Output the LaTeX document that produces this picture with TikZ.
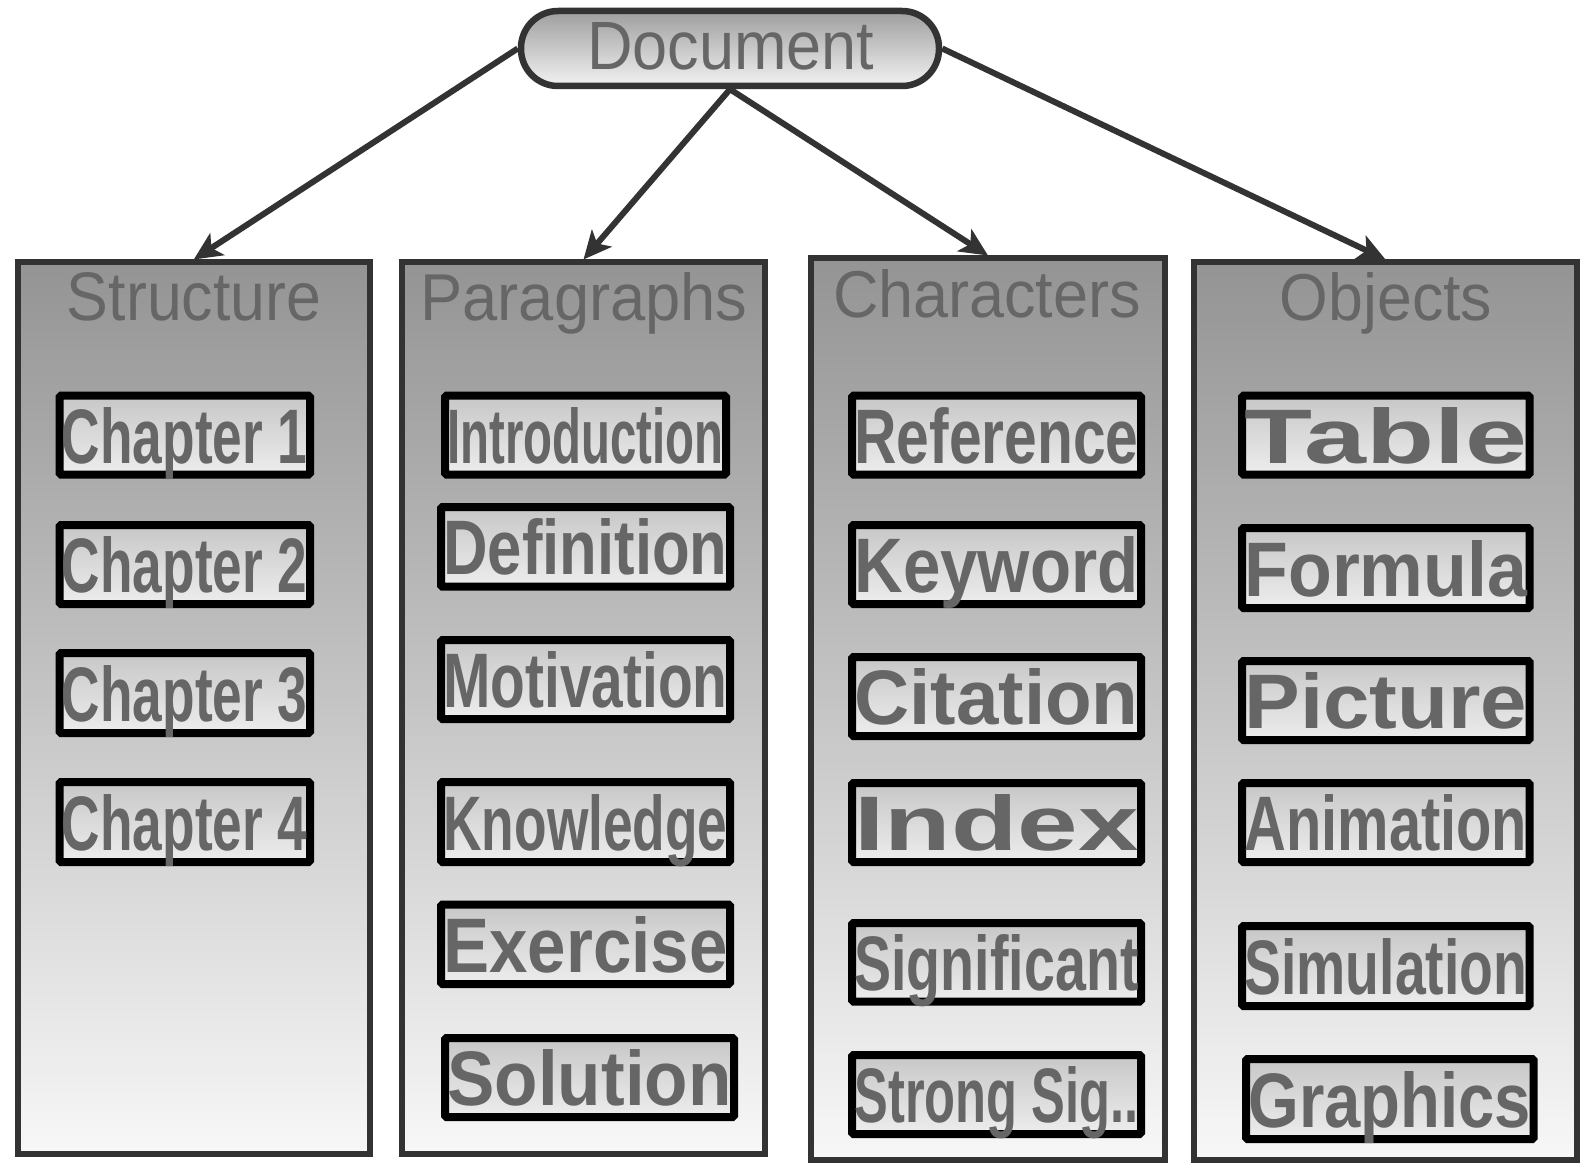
\documentclass[tikz,border=0pt]{standalone}
\usepackage{graphicx}
\usepackage{fontspec}
\setmainfont{Liberation Sans}
\usetikzlibrary{arrows.meta}
\definecolor{txt}{HTML}{666666}
\definecolor{edge}{HTML}{333333}
\tikzset{
  colbox/.style={draw=edge, line width=6pt, top color=black!42, bottom color=black!3, inner sep=0pt},
  itembox/.style={draw=black, line width=8pt, rounded corners=1.5pt, top color=black!22, bottom color=black!7,
    inner sep=0pt, text=txt, font=\bfseries, text height=56pt, text depth=0pt},
  doctitle/.style={inner sep=0pt, text=txt, text height=47pt, text depth=0pt},
  coltitle/.style={inner sep=0pt, text=txt, text height=48pt, text depth=0pt},
  docbox/.style={draw=edge, line width=6.5pt, rounded corners=37pt, top color=black!38, bottom color=black!5, inner sep=0pt},
  link/.style={draw=edge, line width=6pt, -{Stealth[length=28pt,width=26pt,inset=7pt]}},
}
\newcommand\itm[6]{%
  \pgfmathsetmacro\mywd{#4-#2-8}\pgfmathsetmacro\myht{#5-#3-8}\pgfmathsetmacro\mytw{#4-#2-13}%
  \node[itembox, minimum width=\mywd pt, minimum height=\myht pt] (#1) at ({(#2+#4)/2},{(#3+#5)/2}) {\resizebox{\mytw pt}{56pt}{#6}};}
\newcommand\colm[5]{%
  \pgfmathsetmacro\mywd{#4-#2-6}\pgfmathsetmacro\myht{#5-#3-6}%
  \node[colbox, minimum width=\mywd pt, minimum height=\myht pt] (#1) at ({(#2+#4)/2},{(#3+#5)/2}) {};}
\begin{document}
\begin{tikzpicture}[x=1pt,y=-1pt]
\useasboundingbox[fill=white] (0,0) rectangle (1583,1166);
% columns
\colm{colS}{15}{259.5}{372.5}{1157}
\colm{colP}{399}{259.5}{768}{1157}
\colm{colC}{808}{255.5}{1168}{1163}
\colm{colO}{1191}{259.5}{1580}{1163}
% column titles
\node[coltitle] (tS) at (194,297) {\resizebox{254pt}{48pt}{Structure}};
\node[coltitle] (tP) at (584,297) {\resizebox{327pt}{48pt}{Paragraphs}};
\node[coltitle] (tC) at (987,294) {\resizebox{308pt}{48pt}{Characters}};
\node[coltitle] (tO) at (1386,297) {\resizebox{212pt}{48pt}{Objects}};
% document
\node[docbox, minimum width=418pt, minimum height=75pt] (doc) at (730,48.5) {};
\node[doctitle] (tD) at (731,46) {\resizebox{287pt}{47pt}{Document}};
% structure items
\itm{s1}{55.5}{391.7}{314}{478.5}{Chapter 1}
\itm{s2}{55.5}{521}{314}{608}{Chapter 2}
\itm{s3}{55.5}{649}{314}{737}{Chapter 3}
\itm{s4}{55.5}{778}{314}{866}{Chapter 4}
% paragraph items
\itm{p1}{441}{391.7}{730}{478.5}{Introduction}
\itm{p2}{437}{503}{734}{590.6}{Definition}
\itm{p3}{437}{636}{734}{723}{Motivation}
\itm{p4}{437}{778}{734}{866}{Knowledge}
\itm{p5}{437}{900.6}{734}{988}{Exercise}
\itm{p6}{441}{1034}{738}{1121}{Solution}
% character items
\itm{c1}{848}{391.7}{1145}{478.5}{Reference}
\itm{c2}{848}{521}{1145}{608}{Keyword}
\itm{c3}{848}{653}{1145}{740}{Citation}
\itm{c4}{848}{779}{1145}{866}{Index}
\itm{c5}{848}{919}{1145}{1005.5}{Significant}
\itm{c6}{848}{1051}{1145}{1138}{Strong Sig..}
% object items
\itm{o1}{1238}{391.7}{1533.6}{478.5}{Table}
\itm{o2}{1238}{524}{1533.6}{612}{Formula}
\itm{o3}{1238}{657}{1533.6}{744}{Picture}
\itm{o4}{1238}{779}{1533.6}{866}{Animation}
\itm{o5}{1238}{922}{1533.6}{1010}{Simulation}
\itm{o6}{1242}{1055}{1537.6}{1143}{Graphics}
% connectors
\draw[link] (doc.west) -- (colS.north);
\draw[link] (doc.south) -- (colP.north);
\draw[link] (doc.south) -- (colC.north);
\draw[link] (doc.east) -- (colO.north);
\end{tikzpicture}
\end{document}
